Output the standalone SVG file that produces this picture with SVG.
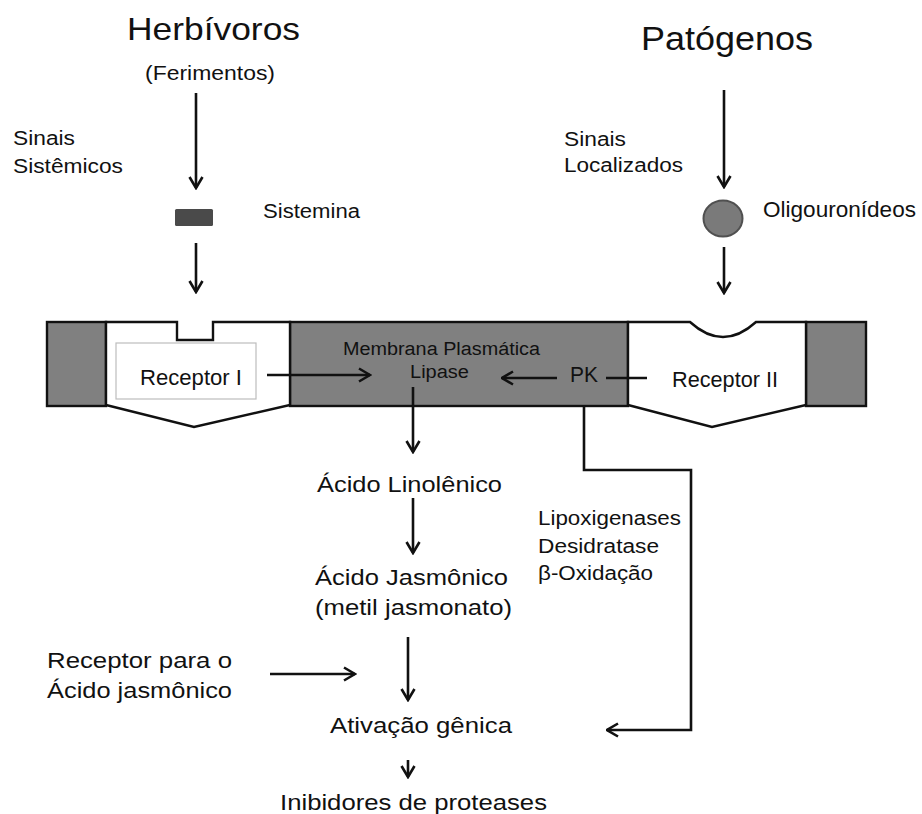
<svg xmlns="http://www.w3.org/2000/svg" width="922" height="814" viewBox="0 0 922 814">
<style>
text{font-family:"Liberation Sans",Arial,sans-serif;fill:#111}
.t19{font-size:20px}.t20{font-size:21.5px}.t21{font-size:22.5px}.t17{font-size:18px}
.ln{stroke:#111;stroke-width:2.6;fill:none}
.ar{stroke:#111;stroke-width:2.6;fill:none;marker-end:url(#ah)}
.mem{stroke:#111;stroke-width:2.4;stroke-linejoin:miter}
.grey{fill:#808080}
</style>
<defs>
<marker id="ah" markerUnits="userSpaceOnUse" viewBox="0 0 14 16" refX="12.5" refY="8" markerWidth="14" markerHeight="16" orient="auto">
<path d="M1.5,1.5 L12.5,8 L1.5,14.5" fill="none" stroke="#111" stroke-width="2.6"/>
</marker>
</defs>
<rect width="922" height="814" fill="#fff"/>

<g id="herbivoros">
<text x="127" y="40" style="font-size:32px" textLength="173" lengthAdjust="spacingAndGlyphs">Herbívoros</text>
<text x="145" y="80" class="t19" textLength="130" lengthAdjust="spacingAndGlyphs">(Ferimentos)</text>
</g>
<g id="sinais-sistemicos">
<text x="13" y="145" class="t19" textLength="62" lengthAdjust="spacingAndGlyphs">Sinais</text>
<text x="13" y="173" class="t19" textLength="110" lengthAdjust="spacingAndGlyphs">Sistêmicos</text>
</g>
<g id="sistemina">
<rect x="175" y="209" width="38" height="17" rx="1.5" fill="#4a4a4a"/>
<text x="263" y="218" class="t19" textLength="97" lengthAdjust="spacingAndGlyphs">Sistemina</text>
</g>
<g id="patogenos">
<text x="641" y="50" style="font-size:33px" textLength="172" lengthAdjust="spacingAndGlyphs">Patógenos</text>
</g>
<g id="sinais-localizados">
<text x="564" y="146" class="t19" textLength="62" lengthAdjust="spacingAndGlyphs">Sinais</text>
<text x="564" y="172" class="t19" textLength="119" lengthAdjust="spacingAndGlyphs">Localizados</text>
</g>
<g id="oligouronideos">
<ellipse cx="723" cy="218.5" rx="19.5" ry="18" fill="#7a7a7a" stroke="#505050" stroke-width="2"/>
<text x="763" y="217" class="t20" textLength="153" lengthAdjust="spacingAndGlyphs">Oligouronídeos</text>
</g>

<g id="membrana">
<rect x="47" y="322" width="59" height="84" class="grey mem"/>
<rect x="290" y="322" width="338" height="84" class="grey mem"/>
<rect x="806" y="322" width="60" height="84" class="grey mem"/>
</g>
<g id="receptor-1">
<path class="mem" fill="#fff" d="M106,322 L177,322 L177,340 L213,340 L213,322 L290,322 L290,405 L194,427 L106,405 Z"/>
<rect x="116" y="343" width="140" height="56" fill="#fff" stroke="#bdbdbd" stroke-width="1.2"/>
<text x="140" y="385" class="t20" textLength="102" lengthAdjust="spacingAndGlyphs">Receptor I</text>
</g>
<g id="receptor-2">
<path class="mem" fill="#fff" d="M628,322 L690,322 Q723,352 756,322 L806,322 L806,405 L712,427 L628,405 Z"/>
<text x="672" y="387" class="t20" textLength="106" lengthAdjust="spacingAndGlyphs">Receptor II</text>
</g>
<g id="lipase">
<text x="343" y="355" class="t17" textLength="197" lengthAdjust="spacingAndGlyphs">Membrana Plasmática</text>
<text x="410" y="378" class="t17" textLength="59" lengthAdjust="spacingAndGlyphs">Lipase</text>
</g>
<g id="pk">
<text x="570" y="382" class="t20" textLength="28" lengthAdjust="spacingAndGlyphs">PK</text>
</g>
<g id="acido-linolenico">
<text x="317" y="492" class="t21" textLength="185" lengthAdjust="spacingAndGlyphs">Ácido Linolênico</text>
</g>
<g id="acido-jasmonico">
<text x="315" y="585" class="t21" textLength="193" lengthAdjust="spacingAndGlyphs">Ácido Jasmônico</text>
<text x="315" y="615" class="t21" textLength="197" lengthAdjust="spacingAndGlyphs">(metil jasmonato)</text>
</g>
<g id="enzimas">
<text x="538" y="525" class="t19" textLength="143" lengthAdjust="spacingAndGlyphs">Lipoxigenases</text>
<text x="538" y="553" class="t19" textLength="121" lengthAdjust="spacingAndGlyphs">Desidratase</text>
<text x="538" y="580" class="t19" textLength="115" lengthAdjust="spacingAndGlyphs">β-Oxidação</text>
</g>
<g id="receptor-ja">
<text x="47" y="668" class="t21" textLength="185" lengthAdjust="spacingAndGlyphs">Receptor  para o</text>
<text x="47" y="698" class="t21" textLength="185" lengthAdjust="spacingAndGlyphs">Ácido jasmônico</text>
</g>
<g id="ativacao">
<text x="330" y="733" class="t21" textLength="182" lengthAdjust="spacingAndGlyphs">Ativação  gênica</text>
</g>
<g id="inibidores">
<text x="280" y="810" class="t21" textLength="267" lengthAdjust="spacingAndGlyphs">Inibidores  de  proteases</text>
</g>

<g id="connectors">
<line class="ar" x1="196" y1="93" x2="196" y2="188"/>
<line class="ar" x1="196" y1="243" x2="196" y2="292"/>
<line class="ar" x1="724" y1="90" x2="724" y2="187"/>
<line class="ar" x1="724" y1="247" x2="724" y2="293"/>
<line class="ar" x1="267" y1="375" x2="370" y2="375"/>
<line class="ar" x1="557" y1="378" x2="502" y2="378"/>
<line class="ln" x1="606" y1="378" x2="647" y2="378"/>
<line class="ar" x1="413" y1="387" x2="413" y2="452"/>
<line class="ar" x1="413" y1="498" x2="413" y2="553"/>
<line class="ar" x1="408" y1="637" x2="408" y2="700"/>
<line class="ar" x1="270" y1="674" x2="355" y2="674"/>
<line class="ar" x1="408" y1="760" x2="408" y2="777"/>
<path class="ar" d="M584,406 L584,470 L691,470 L691,730 L607,730"/>
</g>
</svg>
